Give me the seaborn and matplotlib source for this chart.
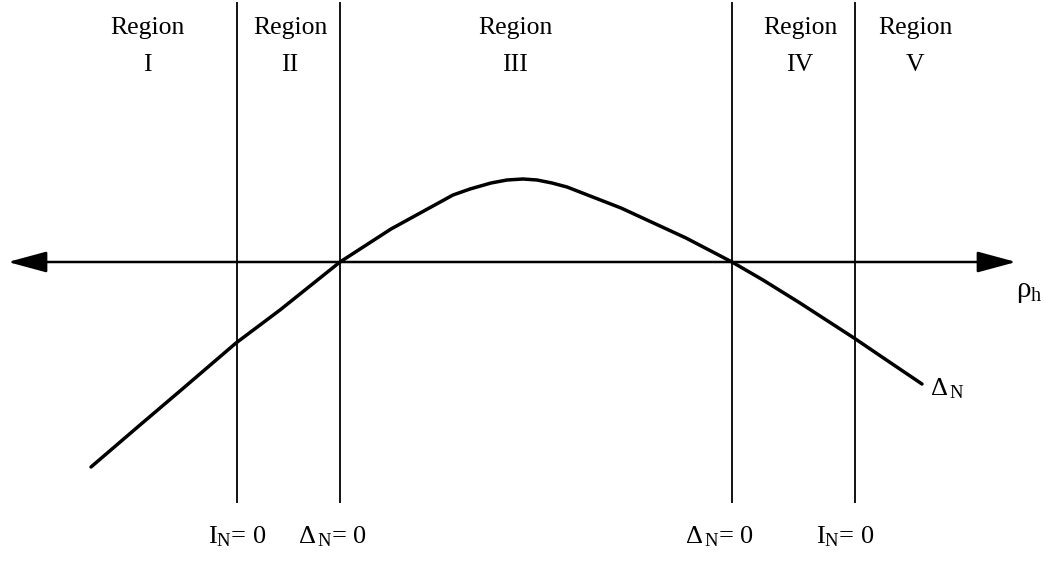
import matplotlib.pyplot as plt
import pandas as pd
import seaborn as sns

sns.set_style("white")
plt.rcParams['font.family'] = ['Liberation Serif', 'DejaVu Serif']
plt.rcParams['mathtext.fontset'] = 'custom'
plt.rcParams['mathtext.rm'] = 'Liberation Serif'
plt.rcParams['mathtext.it'] = 'Liberation Serif'
plt.rcParams['text.color'] = 'black'

# curve Delta_N vs rho_h (x in picture units, Delta positive upwards, axis at 0)
rho = [91, 140, 180, 236, 280, 340, 391, 453, 470, 491, 507, 523, 537, 552, 567,
       621, 686, 732, 763, 800, 854, 882, 922]
delta = [-205, -163, -129, -81, -48, 0, 33, 67, 73, 79, 82, 83, 82, 79, 75,
         54, 24, 0, -18, -41, -76, -95, -122]

# region boundaries
bounds = [237, 340, 732, 855]
bound_labels = ['I$_{\\mathrm{N}}$= 0', '$\\Delta_{\\,\\mathrm{N}}$= 0',
                '$\\Delta_{\\,\\mathrm{N}}$= 0', 'I$_{\\mathrm{N}}$= 0']
bound_label_x = [237, 333, 720, 845]

# region labels
region_x = [147, 290, 515, 800, 915]
region_num = ['I', 'II', 'III', 'IV', 'V']

axis_left, axis_right = 8, 1016

df = pd.DataFrame({'rho': rho, 'delta': delta})

fig = plt.figure(figsize=(10.46, 5.61), dpi=100)
ax = fig.add_axes([0, 0, 1, 1])

sns.lineplot(data=df, x='rho', y='delta', color='black', linewidth=2.5, ax=ax, sort=False)

ax.vlines(bounds, -241, 260, color='black', linewidth=1.3)

ax.annotate('', xy=(axis_right, 0), xytext=(axis_left, 0),
            arrowprops=dict(arrowstyle='<|-|>,head_length=2.4,head_width=0.65',
                            color='black', lw=1.8, shrinkA=0, shrinkB=0,
                            mutation_scale=10))

for x, num in zip(region_x, region_num):
    ax.text(x, 234, 'Region', ha='center', va='center', fontsize=18.5)
    ax.text(x, 197, num, ha='center', va='center', fontsize=18.5)

for x, lab in zip(bound_label_x, bound_labels):
    ax.text(x, -275, lab, ha='center', va='center', fontsize=19)

ax.text(1016, -30, '$\\rho_{\\mathrm{h}}$', ha='left', va='center', fontsize=21)
ax.text(930, -127, '$\\Delta_{\\,\\mathrm{N}}$', ha='left', va='center', fontsize=19)

ax.set_xlim(0, 1046)
ax.set_ylim(262 - 561, 262)
ax.axis('off')

plt.savefig("out.png", dpi=100)
